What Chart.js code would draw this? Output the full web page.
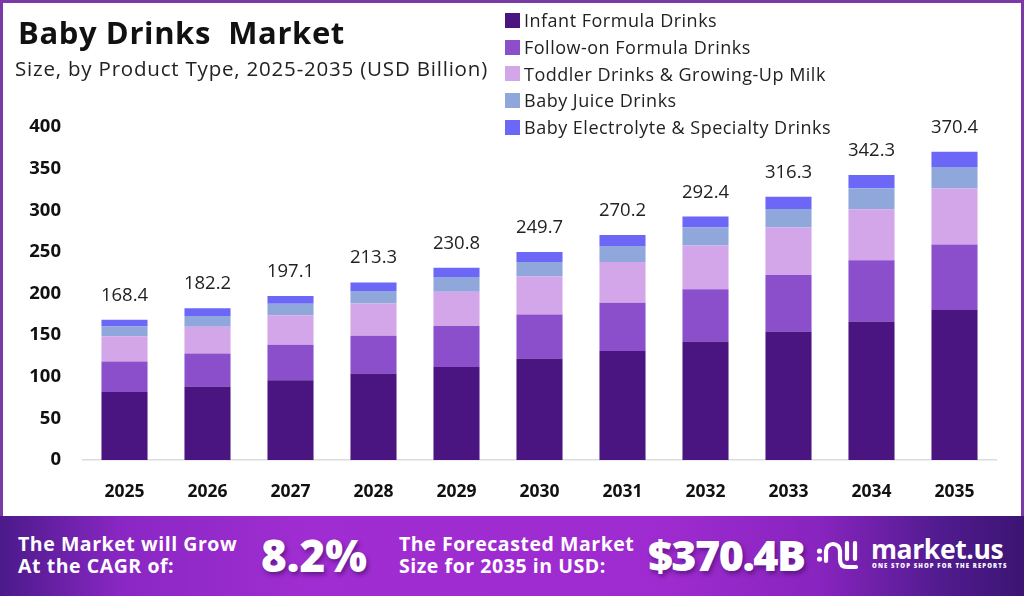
<!DOCTYPE html>
<html>
<head>
<meta charset="utf-8">
<script src="https://cdn.jsdelivr.net/npm/chart.js@4.4.1/dist/chart.umd.min.js"></script>
<style>
  html, body { margin: 0; padding: 0; }
  body { width: 1024px; height: 596px; position: relative; overflow: hidden; background: #fff; font-family: 'Open Sans', sans-serif; }
  #chartWrap { position: absolute; left: 0; top: 0; width: 1024px; height: 516px; }
  .bl { position: absolute; background: #7a3aa6; }
  #title { position: absolute; left: 18px; top: 11px; font-size: 31px; font-weight: 700; color: #111; white-space: pre; letter-spacing: 0.6px; }
  #subtitle { position: absolute; left: 15px; top: 54px; font-size: 20.5px; color: #222; white-space: pre; letter-spacing: 0.8px; }
  #legend { position: absolute; left: 505px; top: 7px; }
  .li { height: 26.7px; display: flex; align-items: center; font-size: 18px; color: #222; white-space: nowrap; letter-spacing: 0.5px; }
  .sw { width: 15px; height: 15px; margin-right: 4px; flex: none; }
  #banner { position: absolute; left: 0; top: 516px; width: 1024px; height: 80px;
    background: linear-gradient(90deg, #4b1a8a 0%, #8a27c4 12%, #a02dd1 30%, #9e2bcf 65%, #8824bf 80%, #501b8e 92%, #3c1472 100%); color: #fff; }
  .bt { position: absolute; font-weight: 700; font-size: 19.5px; line-height: 22px; white-space: nowrap; letter-spacing: 0.55px; }
  .big { position: absolute; font-weight: 800; font-size: 44px; white-space: nowrap; text-shadow: 2px 3px 4px rgba(40,0,70,0.45); }
  #brand { position: absolute; left: 871px; top: 15px; font-weight: 700; font-size: 26.5px; letter-spacing: -0.4px; }
  #tag { position: absolute; left: 872px; top: 46px; font-weight: 800; font-size: 6px; letter-spacing: 1.1px; white-space: nowrap; }
  #logo { position: absolute; left: 816px; top: 23px; }
</style>
</head>
<body>
<div id="chartWrap"><canvas id="c" width="1024" height="516"></canvas></div>
<div class="bl" style="left:0;top:0;width:1024px;height:3px"></div>
<div class="bl" style="left:0;top:0;width:3px;height:516px"></div>
<div class="bl" style="left:1021px;top:0;width:3px;height:516px"></div>

<div id="title">Baby Drinks  Market</div>
<div id="subtitle">Size, by Product Type, 2025-2035 (USD Billion)</div>
<div id="legend"></div>

<div id="banner">
  <div class="bt" style="left:18px;top:17px">The Market will Grow<br>At the CAGR of:</div>
  <div class="big" style="left:261px;top:9px" id="cagr"></div>
  <div class="bt" style="left:399px;top:17px">The Forecasted Market<br>Size for 2035 in USD:</div>
  <div class="big" style="left:648px;top:9px;letter-spacing:-1.5px;font-size:43px" id="fc"></div>
  <svg id="logo" width="48" height="34" viewBox="0 0 48 34">
    <circle cx="3.5" cy="12" r="2.6" fill="#fff"/>
    <circle cx="3.5" cy="20" r="2.6" fill="#fff"/>
    <path d="M10 22 V12 A7 7 0 0 1 24 12 V20 Q24 28 31 28 H40" stroke="#fff" stroke-width="4.2" fill="none" stroke-linecap="round"/>
    <path d="M31 4 V20 M39 4 V20" stroke="#fff" stroke-width="4.2" fill="none" stroke-linecap="round"/>
  </svg>
  <div id="brand">market.us</div>
  <div id="tag">ONE STOP SHOP FOR THE REPORTS</div>
</div>

<script>
const years = ['2025','2026','2027','2028','2029','2030','2031','2032','2033','2034','2035'];
const infantFormula   = [81.8, 88.3, 95.8, 103.8, 111.8, 121.9, 131.0, 142.2, 154.5, 166.3, 180.1];
const followOnFormula = [36.4, 39.5, 42.6, 45.3, 49.1, 53.0, 57.9, 62.9, 67.7, 73.7, 78.7];
const toddlerMilk     = [30.4, 32.4, 35.6, 38.8, 41.1, 45.6, 48.9, 52.5, 57.2, 61.2, 67.2];
const babyJuice       = [11.7, 12.8, 13.8, 15.2, 17.9, 17.2, 19.2, 21.6, 22.1, 25.1, 25.9];
const electrolyte     = [8.1, 9.2, 9.3, 10.2, 10.9, 12.0, 13.2, 13.2, 14.8, 16.0, 18.5];
const totals          = [168.4, 182.2, 197.1, 213.3, 230.8, 249.7, 270.2, 292.4, 316.3, 342.3, 370.4];
const yTicks          = [0, 50, 100, 150, 200, 250, 300, 350, 400];
const seriesNames = ['Infant Formula Drinks', 'Follow-on Formula Drinks', 'Toddler Drinks & Growing-Up Milk', 'Baby Juice Drinks', 'Baby Electrolyte & Specialty Drinks'];
const seriesColors = ['#4b1581', '#8b4fcc', '#d3a5e9', '#8fa7db', '#6c67f6'];
const cagrText = '8.2%';
const forecastText = '$370.4B';

document.getElementById('cagr').textContent = cagrText;
document.getElementById('fc').textContent = forecastText;

const lg = document.getElementById('legend');
seriesNames.forEach((n, i) => {
  const d = document.createElement('div'); d.className = 'li';
  const s = document.createElement('div'); s.className = 'sw'; s.style.background = seriesColors[i];
  d.appendChild(s); d.appendChild(document.createTextNode(n)); lg.appendChild(d);
});

const seriesData = [infantFormula, followOnFormula, toddlerMilk, babyJuice, electrolyte];

const totalLabels = {
  id: 'totalLabels',
  afterDatasetsDraw(chart) {
    const ctx = chart.ctx;
    const meta = chart.getDatasetMeta(seriesData.length - 1);
    ctx.save();
    ctx.font = '400 18.5px "Open Sans"';
    ctx.fillStyle = '#222';
    ctx.textAlign = 'center';
    ctx.textBaseline = 'alphabetic';
    meta.data.forEach((bar, i) => {
      ctx.fillText(totals[i].toFixed(1), bar.x, bar.y - 19);
    });
    ctx.restore();
  }
};

new Chart(document.getElementById('c'), {
  type: 'bar',
  data: {
    labels: years,
    datasets: seriesData.map((d, i) => ({
      label: seriesNames[i], data: d, backgroundColor: seriesColors[i], borderWidth: 0,
      categoryPercentage: 1, barPercentage: 0.555
    }))
  },
  options: {
    responsive: false,
    animation: false,
    layout: { padding: { top: 127, right: 28, bottom: 16, left: 0 } },
    plugins: { legend: { display: false }, tooltip: { enabled: false } },
    scales: {
      x: {
        stacked: true,
        grid: { display: false, drawTicks: false },
        border: { display: true, color: '#dcdcdc', width: 1.5 },
        ticks: { color: '#111', font: { family: 'Open Sans', size: 17.5, weight: '700' }, padding: 22 },
        afterFit(s) { s.height = 40; }
      },
      y: {
        stacked: true, min: 0, max: 400,
        grid: { display: false, drawTicks: false },
        border: { display: false },
        afterBuildTicks(s) { s.ticks = yTicks.map(v => ({ value: v })); },
        ticks: { color: '#111', font: { family: 'Open Sans', size: 18.5, weight: '700' }, padding: 22 },
        afterFit(s) { s.width = 83; }
      }
    }
  },
  plugins: [totalLabels]
});
</script>
</body>
</html>
